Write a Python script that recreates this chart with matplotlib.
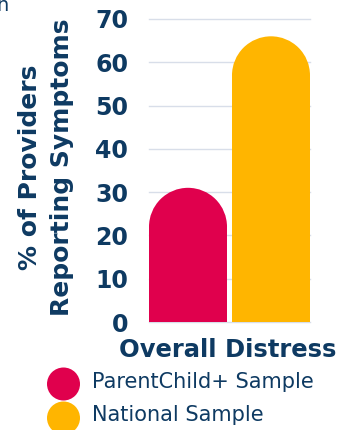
import matplotlib
matplotlib.use("Agg")
import matplotlib.pyplot as plt
from matplotlib.patches import Rectangle, Ellipse

# data
categories = ["ParentChild+ Sample", "National Sample"]
values = [31, 66]
colors = ["#E0004D", "#FFB500"]
yticks = [0, 10, 20, 30, 40, 50, 60, 70]
xlabel = "Overall Distress"
ylabel = "% of Providers\nReporting Symptoms"

navy = "#0E3A62"
grid_color = "#D8DEE9"
W, H = 353, 430

fig = plt.figure(figsize=(W / 100, H / 100), dpi=100)
ax = fig.add_axes([149 / W, 1 - 322 / H, 161 / W, 303 / H])

width = 0.94
ax.set_xlim(-width / 2, 1 + width / 2)
ax.set_ylim(0, 70)

# radius of the rounded cap in y data units
px_x = ax.bbox.width / (ax.get_xlim()[1] - ax.get_xlim()[0])
px_y = ax.bbox.height / (ax.get_ylim()[1] - ax.get_ylim()[0])
r_y = (width / 2) * px_x / px_y

for i, (v, c) in enumerate(zip(values, colors)):
    ax.add_patch(Rectangle((i - width / 2, 0), width, v - r_y + 0.05,
                           facecolor=c, edgecolor="none", zorder=3))
    ax.add_patch(Ellipse((i, v - r_y), width, 2 * r_y,
                         facecolor=c, edgecolor="none", zorder=3))

for t in yticks:
    ax.axhline(t, color=grid_color, lw=1.0, zorder=1, clip_on=False)

for s in ax.spines.values():
    s.set_visible(False)
ax.set_xticks([])
ax.set_yticks(yticks)
ax.tick_params(axis="y", length=0, pad=15)
for lab in ax.get_yticklabels():
    lab.set_fontweight("bold")
    lab.set_fontsize(17)
    lab.set_color(navy)

fig.text(228 / W, 1 - 357 / H, xlabel, ha="center", va="baseline",
         fontsize=17.5, fontweight="bold", color=navy)
fig.text(46 / W, 1 - 167 / H, ylabel, rotation=90, ha="center", va="center",
         fontsize=18, fontweight="bold", color=navy, linespacing=1.38)

# legend with round markers
leg_y = [384, 418]
text_y = [382, 415]
for lab, c, yy, ty in zip(categories, colors, leg_y, text_y):
    fig.patches.append(Ellipse((63.5 / W, 1 - yy / H), 33 / W, 33 / H,
                               transform=fig.transFigure, facecolor=c, edgecolor="none"))
    fig.text(92 / W, 1 - ty / H, lab, ha="left", va="center",
             fontsize=15, color=navy)

# clipped fragment of a heading at the top-left
fig.text(2 / W, 1 - 11 / H, "n", ha="center", va="baseline", fontsize=14, color=navy)

fig.savefig("out.png", dpi=100)
